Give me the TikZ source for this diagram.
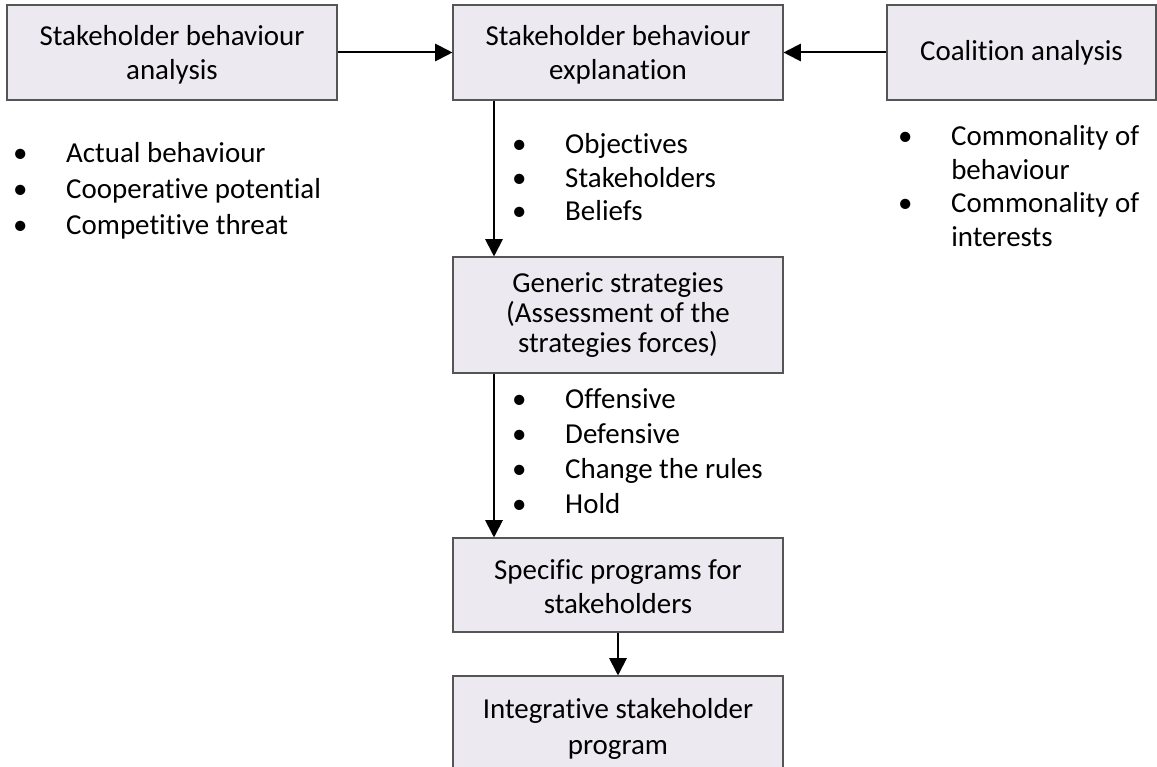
\documentclass[tikz,border=0pt]{standalone}
\usepackage{fontspec}
\setmainfont{Carlito}[Ligatures=NoCommon]
\usetikzlibrary{arrows.meta}
\definecolor{boxfill}{RGB}{236,233,241}
\definecolor{boxline}{RGB}{85,85,85}
% bullet centred on the left edge, text after a fixed indent
\newcommand\bitem[1]{\makebox[34.5pt][l]{\makebox[0pt]{\textbullet}}#1}
\newcommand\bcont[1]{\hspace*{34.5pt}#1}
\begin{document}
\begin{tikzpicture}[x=0.75pt,y=-0.75pt,
  every node/.style={font=\fontsize{21.7}{25.5}\selectfont},
  stagebox/.style={draw=boxline, line width=0.8pt, fill=boxfill, align=center,
    inner sep=0pt, minimum width=247.5pt, minimum height=71.25pt},
  flow/.style={line width=1.5pt, -{Triangle[length=13pt,width=13pt]}},
  bulletlist/.style={anchor=base west, inner sep=0pt}]
\useasboundingbox (0,0) rectangle (1157,767);
\clip (0,0) rectangle (1157,767);

% stages
\node[stagebox] (b1) at (172,52.5) {\strut Stakeholder behaviour\\analysis};
\node[stagebox] (b2) at (618,52.5) {\strut Stakeholder behaviour\\explanation};
\node[stagebox, minimum width=201.75pt] (b3) at (1021.5,52.5) {Coalition analysis};
\node[stagebox, minimum height=87pt, font=\fontsize{21.7}{22.5}\selectfont] (gen) at (618,315)
  {Generic strategies\\(Assessment of the\\strategies forces)};
\node[stagebox, minimum height=70.5pt] (spec) at (618,585) {\strut Specific programs for\\stakeholders};
\node[stagebox, minimum height=75pt, font=\fontsize{21.7}{27}\selectfont] (integ) at (618,726)
  {\strut Integrative stakeholder\\program};

% bullet lists
\node[bulletlist, font=\fontsize{21.7}{27}\selectfont] (l1) at (20,162)
  {\begin{tabular}[t]{@{}l@{}}\bitem{Actual behaviour}\\ \bitem{Cooperative potential}\\ \bitem{Competitive threat}\end{tabular}};
\node[bulletlist] (l2) at (519,153)
  {\begin{tabular}[t]{@{}l@{}}\bitem{Objectives}\\ \bitem{Stakeholders}\\ \bitem{Beliefs}\end{tabular}};
\node[bulletlist, font=\fontsize{21.7}{26.25}\selectfont] (l3) at (519,408)
  {\begin{tabular}[t]{@{}l@{}}\bitem{Offensive}\\ \bitem{Defensive}\\ \bitem{Change the rules}\\ \bitem{Hold}\end{tabular}};
\node[bulletlist] (l4) at (905,145)
  {\begin{tabular}[t]{@{}l@{}}\bitem{Commonality of}\\ \bcont{behaviour}\\ \bitem{Commonality of}\\ \bcont{interests}\end{tabular}};

% connectors
\draw[flow] (b1) -- (b2);
\draw[flow] (b3) -- (b2);
\draw[flow] ([xshift=-93pt]b2.south) -- ([xshift=-93pt]gen.north);
\draw[flow] ([xshift=-93pt]gen.south) -- ([xshift=-93pt]spec.north);
\draw[flow] (spec) -- (integ);
\end{tikzpicture}
\end{document}
